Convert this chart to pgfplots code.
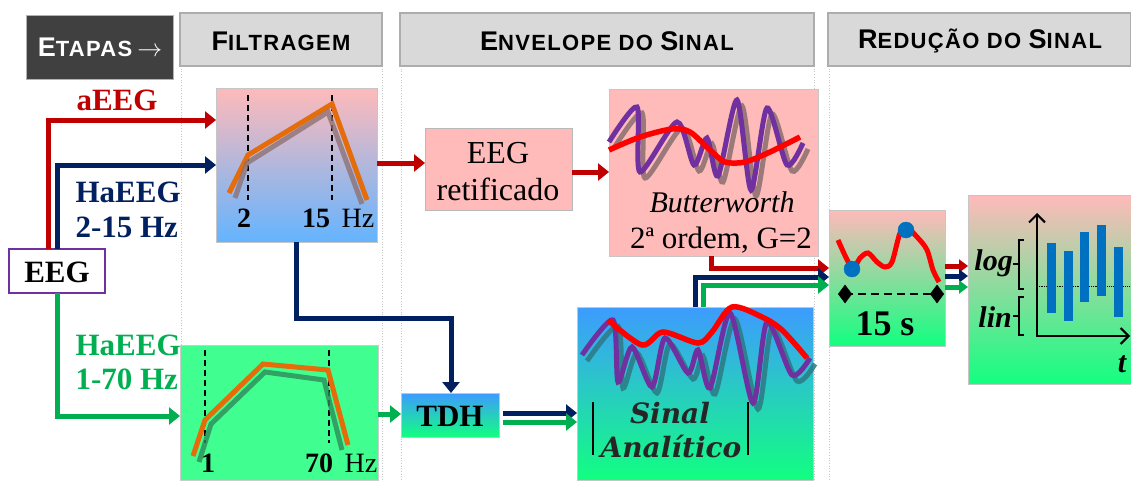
\documentclass[border=0pt]{standalone}
\usepackage{pgfplots}
\pgfplotsset{compat=1.18}
\usetikzlibrary{arrows.meta}
\usepackage{fontspec}
\setmainfont{Liberation Serif}
\newfontfamily\hsans[LetterSpace=6]{Liberation Sans}
\newfontfamily\dvserif{DejaVu Serif}

\definecolor{aeeg}{HTML}{C00000}
\definecolor{navy}{HTML}{002060}
\definecolor{geeg}{HTML}{00B050}
\definecolor{purp}{HTML}{7030A0}
\definecolor{orng}{HTML}{E46C0A}
\definecolor{pinkb}{HTML}{FFBABA}
\definecolor{blueb}{HTML}{64B4FF}
\definecolor{skyb}{HTML}{3D9BFF}
\definecolor{mint}{HTML}{12FF80}
\definecolor{midb}{HTML}{5AA8FF}
\definecolor{greenb}{HTML}{40FF90}
\definecolor{hdr}{HTML}{D9D9D9}
\definecolor{hdrline}{HTML}{ADADAD}
\definecolor{etap}{HTML}{404040}
\definecolor{barb}{HTML}{0070C0}
\definecolor{shad}{HTML}{8A6E6E}
\definecolor{shadg}{HTML}{2E8B5A}
\definecolor{shadt}{HTML}{2C7A84}

% small caps made by hand: big first letter, smaller rest
\newcommand{\hsc}[2]{{\fontsize{27}{29}\selectfont #1}{\fontsize{22}{24}\selectfont #2}}
\newcommand{\fs}[1]{\fontsize{#1}{#1}\selectfont}

\tikzset{
  arr/.style={line width=5pt, line join=miter, -{Triangle[length=11pt,width=17pt]}},
  sarr/.style={line width=5pt, -{Triangle[length=9pt,width=13pt]}},
  cut/.style={black, line width=1.6pt, dash pattern=on 6pt off 4pt},
}

\begin{document}
\begin{tikzpicture}
\begin{axis}[
  scale only axis, width=1131pt, height=480pt,
  xmin=0, xmax=1131, ymin=0, ymax=480, y dir=reverse,
  hide axis, clip=false,
]
% column separators
\addplot[gray!45, dotted, line width=0.7pt] coordinates {(181,66) (181,480)};
\addplot[gray!45, dotted, line width=0.7pt] coordinates {(382,66) (382,480)};
\addplot[gray!45, dotted, line width=0.7pt] coordinates {(401,66) (401,480)};
\addplot[gray!45, dotted, line width=0.7pt] coordinates {(814,66) (814,480)};
\addplot[gray!45, dotted, line width=0.7pt] coordinates {(829,66) (829,480)};

% header boxes
\addplot[draw=gray!60, fill=etap, line width=1pt] coordinates {(26,15) (173,15) (173,79) (26,79)} -- cycle;
\addplot[draw=hdrline, fill=hdr, line width=1.5pt] coordinates {(180,13) (382,13) (382,66) (180,66)} -- cycle;
\addplot[draw=hdrline, fill=hdr, line width=1.5pt] coordinates {(400,13) (814,13) (814,66) (400,66)} -- cycle;
\addplot[draw=hdrline, fill=hdr, line width=1.5pt] coordinates {(828,13) (1131,13) (1131,66) (828,66)} -- cycle;
\node[white, font=\hsans\bfseries] at (axis cs:100,47) {\hsc{E}{TAPAS}\enspace{\fs{24}$\rightarrow$}};
\node[font=\hsans\bfseries] at (axis cs:281,41) {\hsc{F}{ILTRAGEM}};
\node[font=\hsans\bfseries] at (axis cs:607,41) {\hsc{E}{NVELOPE DO }\hsc{S}{INAL}};
\node[font=\hsans\bfseries] at (axis cs:980,41) {\hsc{R}{EDUÇÃO DO }\hsc{S}{INAL}};

% process boxes
\addplot[draw=gray!45, top color=pinkb, bottom color=blueb, line width=1pt] coordinates {(216,88) (377,88) (377,242) (216,242)} -- cycle;
\addplot[draw=gray!40, fill=greenb, line width=1pt] coordinates {(180,345) (378,345) (378,480) (180,480)} -- cycle;
\addplot[draw=purp, fill=white, line width=2.5pt] coordinates {(9,249) (105,249) (105,293) (9,293)} -- cycle;
\addplot[draw=gray!55, fill=pinkb, line width=1pt] coordinates {(425,128) (572,128) (572,210) (425,210)} -- cycle;
\addplot[draw=gray!45, fill=pinkb, line width=1pt] coordinates {(609,89) (818,89) (818,256) (609,256)} -- cycle;
\addplot[draw=gray!45, top color=skyb, bottom color=mint, line width=1pt] coordinates {(401,393) (499,393) (499,437) (401,437)} -- cycle;
\addplot[draw=gray!45, top color=skyb, bottom color=mint, line width=1pt] coordinates {(577,307) (813,307) (813,480) (577,480)} -- cycle;
\addplot[draw=gray!45, top color=pinkb, middle color=midb, bottom color=mint, line width=1pt] coordinates {(829,210) (945,210) (945,346) (829,346)} -- cycle;
\addplot[draw=gray!45, top color=pinkb, middle color=midb, bottom color=mint, line width=1pt] coordinates {(968,195) (1131,195) (1131,384) (968,384)} -- cycle;

% band-pass 2-15 Hz
\addplot[cut] coordinates {(248,95) (248,200)};
\addplot[cut] coordinates {(332,95) (332,200)};
\addplot[orng, line width=5pt] coordinates {(229,193) (248,155) (332,104) (367,200)};
\addplot[shad, opacity=0.75, line width=5pt] coordinates {(235,198) (247,163) (328,112) (362,204)};
\node[anchor=base, font=\fs{28}\bfseries] at (axis cs:244,227) {2};
\node[anchor=base, font=\fs{28}\bfseries] at (axis cs:316,227) {15};
\node[anchor=base, font=\fs{28}] at (axis cs:358,227) {Hz};

% band-pass 1-70 Hz
\addplot[cut] coordinates {(205,350) (205,443)};
\addplot[cut] coordinates {(329,350) (329,443)};
\addplot[orng, line width=5pt] coordinates {(193,456) (205,420) (263,364) (328,370) (348,445)};
\addplot[shadg, opacity=0.8, line width=5pt] coordinates {(199,462) (211,424) (265,372) (324,380) (342,450)};
\node[anchor=base, font=\fs{28}\bfseries] at (axis cs:208,472) {1};
\node[anchor=base, font=\fs{28}\bfseries] at (axis cs:319,472) {70};
\node[anchor=base, font=\fs{28}] at (axis cs:361,472) {Hz};

% input paths
\addplot[aeeg, arr] coordinates {(48,249) (48,120) (216,120)};
\addplot[navy, arr] coordinates {(57,249) (57,165) (216,165)};
\addplot[geeg, arr] coordinates {(57,293) (57,416) (180,416)};
\node[anchor=base, font=\fs{31}\bfseries, aeeg] at (axis cs:117,110) {aEEG};
\node[anchor=base west, font=\fs{31}\bfseries, navy] at (axis cs:72,202) {HaEEG};
\node[anchor=base west, font=\fs{31}\bfseries, navy] at (axis cs:72,237) {2-15 Hz};
\node[anchor=base west, font=\fs{31}\bfseries, geeg] at (axis cs:72,355) {HaEEG};
\node[anchor=base west, font=\fs{31}\bfseries, geeg] at (axis cs:72,389) {1-70 Hz};
\node[anchor=base, font=\fs{31}\bfseries] at (axis cs:57,282) {EEG};

% envelope stage
\addplot[aeeg, arr] coordinates {(377,163) (425,163)};
\addplot[aeeg, arr] coordinates {(572,172) (609,172)};
\addplot[navy, arr] coordinates {(296,242) (296,318) (451,318) (451,393)};
\addplot[geeg, arr] coordinates {(378,414) (401,414)};
\addplot[navy, arr] coordinates {(503,413) (577,413)};
\addplot[geeg, arr] coordinates {(503,422) (577,422)};
\node[anchor=base, font=\fs{32}] at (axis cs:498,163) {EEG};
\node[anchor=base, font=\fs{32}] at (axis cs:498,200) {retificado};
\node[anchor=base, font=\fs{31}] at (axis cs:450,426) {\bfseries TDH};

% Butterworth waves
\addplot[shad, opacity=0.85, line width=5pt, smooth, tension=0.45] coordinates {
  (614,148) (642,113) (645,178) (682,128) (699,171) (712,144) (723,182) (742,106) (756,196) (772,114) (792,171) (808,149)};
\addplot[purp, line width=5pt, smooth, tension=0.45] coordinates {
  (609,142) (637,107) (640,172) (677,122) (694,165) (707,138) (718,176) (737,100) (751,190) (767,108) (787,165) (803,143)};
\addplot[red, line width=5.5pt, smooth] coordinates {
  (609,150) (640,137) (672,129) (690,132) (710,150) (725,162) (745,162) (770,152) (800,137)};
\node[anchor=base, font=\fs{30}\itshape] at (axis cs:722,212) {Butterworth};
\node[anchor=base, font=\fs{31}] at (axis cs:721,248) {2ª ordem, G=2};

% analytic signal waves
\addplot[shadt, opacity=0.85, line width=5pt, smooth, tension=0.45] coordinates {
  (587,361) (618,326) (623,388) (637,353) (657,393) (670,344) (693,379) (703,356) (715,394) (735,319) (758,409) (772,328) (797,381) (815,364)};
\addplot[purp, line width=5pt, smooth, tension=0.45] coordinates {
  (582,355) (613,320) (618,382) (632,347) (652,387) (665,338) (688,373) (698,350) (710,388) (730,313) (753,403) (767,322) (792,375) (810,358)};
\addplot[red, line width=5.5pt, smooth] coordinates {
  (608,320) (642,345) (663,332) (698,343) (712,332) (732,307) (762,317) (782,330) (807,358)};
\addplot[black, line width=2pt] coordinates {(593,402) (593,455)};
\addplot[black, line width=2pt] coordinates {(748,402) (748,455)};
\node[anchor=base, font=\dvserif\bfseries\itshape\fs{28}, black!85] at (axis cs:670,423) {Sinal};
\node[anchor=base, font=\dvserif\bfseries\itshape\fs{28}, black!85] at (axis cs:671,457) {Analítico};

% to reduction stage
\addplot[aeeg, arr] coordinates {(711,256) (711,268) (829,268)};
\addplot[navy, arr] coordinates {(695,307) (695,277) (829,277)};
\addplot[geeg, arr] coordinates {(703,307) (703,285) (829,285)};

% 15 s window
\addplot[red, line width=5pt, smooth] coordinates {
  (838,240) (852,268) (860,258) (868,253) (877,262) (885,267) (892,262) (900,233) (907,228) (918,238) (927,250) (933,270) (939,282)};
\addplot[barb, only marks, mark=*, mark size=8pt] coordinates {(852,269) (906,230)};
\addplot[black, line width=2pt, dash pattern=on 8pt off 5pt] coordinates {(845,294) (937,294)};
\addplot[black, only marks, mark=diamond*, mark size=9pt] coordinates {(845,294) (937,294)};
\node[anchor=base, font=\fs{36}\bfseries] at (axis cs:885,335) {15 s};

\addplot[aeeg, sarr] coordinates {(945,266) (968,266)};
\addplot[navy, sarr] coordinates {(945,276) (968,276)};
\addplot[geeg, sarr] coordinates {(945,287) (968,287)};

% aEEG display
\addplot[black, densely dotted, line width=0.8pt] coordinates {(1037,286) (1131,286)};
\addplot[barb, line width=9pt] coordinates {(1051,243) (1051,313)};
\addplot[barb, line width=9pt] coordinates {(1068,251) (1068,321)};
\addplot[barb, line width=9pt] coordinates {(1084,232) (1084,302)};
\addplot[barb, line width=9pt] coordinates {(1101,225) (1101,296)};
\addplot[barb, line width=9pt] coordinates {(1118,247) (1118,317)};
\addplot[black, line width=2pt, -{Straight Barb[length=8pt,width=16pt]}] coordinates {(1037,337) (1037,213)};
\addplot[black, line width=2pt, -{Straight Barb[length=8pt,width=16pt]}] coordinates {(1036,336) (1130,336)};
\addplot[black, line width=1.2pt] coordinates {(1024,240) (1019,240) (1019,289) (1024,289)};
\addplot[black, line width=1.2pt] coordinates {(1019,264) (1013,264)};
\addplot[black, line width=1.2pt] coordinates {(1024,297) (1019,297) (1019,335) (1024,335)};
\addplot[black, line width=1.2pt] coordinates {(1019,316) (1013,316)};
\node[anchor=base east, font=\fs{30}\bfseries\itshape, inner sep=0pt] at (axis cs:1013,270) {log};
\node[anchor=base east, font=\fs{30}\bfseries\itshape, inner sep=0pt] at (axis cs:1012,327) {lin};
\node[anchor=base, font=\fs{30}\bfseries\itshape] at (axis cs:1122,372) {t};
\end{axis}
\pgfresetboundingbox
\path (current axis.south west) rectangle (current axis.north east);
\end{tikzpicture}
\end{document}
